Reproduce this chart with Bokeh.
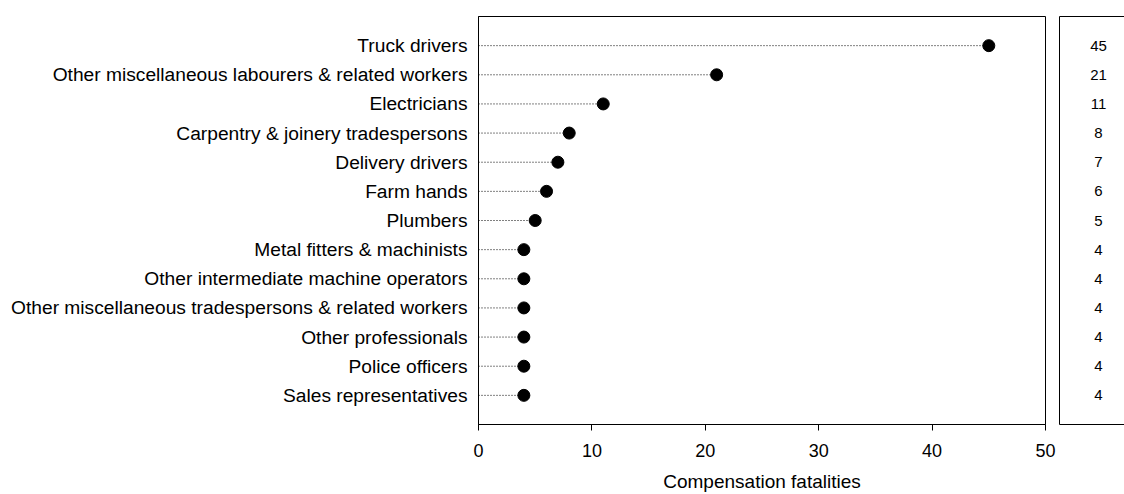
from bokeh.plotting import figure
from bokeh.layouts import row
from bokeh.models import ColumnDataSource, FactorRange, Range1d, FixedTicker, LinearAxis
from bokeh.embed import file_html
from bokeh.resources import INLINE

occupations = [
    "Truck drivers",
    "Other miscellaneous labourers & related workers",
    "Electricians",
    "Carpentry & joinery tradespersons",
    "Delivery drivers",
    "Farm hands",
    "Plumbers",
    "Metal fitters & machinists",
    "Other intermediate machine operators",
    "Other miscellaneous tradespersons & related workers",
    "Other professionals",
    "Police officers",
    "Sales representatives",
]
fatalities = [45, 21, 11, 8, 7, 6, 5, 4, 4, 4, 4, 4, 4]
x_ticks = [0, 10, 20, 30, 40, 50]
x_title = "Compensation fatalities"

FONT = "Liberation Sans"

src = ColumnDataSource(dict(
    occ=occupations,
    val=fatalities,
    zero=[0] * len(fatalities),
    lbl=[str(v) for v in fatalities],
    lx=[0.6] * len(fatalities),
))

y_range = FactorRange(factors=list(reversed(occupations)),
                      range_padding=0.5, range_padding_units="absolute")

p = figure(width=1059, height=494, y_range=y_range, x_range=Range1d(0, 50),
           output_backend="svg", toolbar_location=None,
           min_border_left=478, min_border_right=14, min_border_top=16, min_border_bottom=70)
p.background_fill_color = "white"
p.border_fill_color = "white"
p.outline_line_color = "black"
p.outline_line_width = 1
p.grid.visible = False

p.segment(x0="zero", y0="occ", x1="val", y1="occ", source=src,
          line_color="black", line_width=1, line_dash="1 2")
p.scatter(x="val", y="occ", source=src, size=12, marker="circle",
          fill_color="black", line_color="black")

xa = p.xaxis[0]
xa.ticker = FixedTicker(ticks=x_ticks)
xa.axis_line_color = "black"
xa.major_tick_in = 0
xa.major_tick_out = 6
xa.major_tick_line_color = "black"
xa.minor_tick_line_color = None
xa.major_label_text_font = FONT
xa.major_label_text_font_size = "18px"
xa.major_label_text_color = "black"
xa.major_label_standoff = 13
xa.axis_label = x_title
xa.axis_label_text_font = FONT
xa.axis_label_text_font_size = "19px"
xa.axis_label_text_font_style = "normal"
xa.axis_label_text_color = "black"
xa.axis_label_standoff = 11

ya = p.yaxis[0]
ya.axis_line_color = "black"
ya.major_tick_line_color = None
ya.minor_tick_line_color = None
ya.major_tick_out = 0
ya.major_tick_in = 0
ya.major_label_standoff = 11
ya.major_label_text_font = FONT
ya.major_label_text_font_size = "19.2px"
ya.major_label_text_color = "black"

# side panel with the values
p2 = figure(width=65, height=494, y_range=y_range, x_range=Range1d(0, 1),
            output_backend="svg", toolbar_location=None,
            min_border_left=0, min_border_right=0, min_border_top=16, min_border_bottom=70)
p2.outline_line_color = None
p2.grid.visible = False
p2.background_fill_color = "white"
p2.border_fill_color = "white"
p2.text(x="lx", y="occ", text="lbl", source=src, text_align="center",
        text_baseline="middle", text_font_size="15px", text_color="black",
        text_font={"value": FONT})

for ax in list(p2.xaxis) + list(p2.yaxis):
    ax.ticker = FixedTicker(ticks=[])
    ax.axis_line_color = "black"
    ax.major_tick_line_color = None
    ax.minor_tick_line_color = None
    ax.major_tick_out = 0
    ax.major_tick_in = 0
    ax.major_label_standoff = 0
p2.add_layout(LinearAxis(ticker=FixedTicker(ticks=[]), axis_line_color="black",
                         major_tick_line_color=None, minor_tick_line_color=None,
                         major_tick_out=0, major_tick_in=0, major_label_standoff=0),
              "above")

layout = row(p, p2)
open("out.html", "w").write(file_html(layout, INLINE))
